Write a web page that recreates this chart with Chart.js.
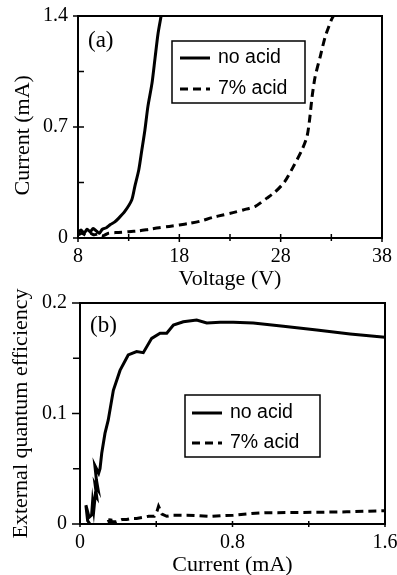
<!DOCTYPE html>
<html>
<head>
<meta charset="utf-8">
<script src="https://cdn.jsdelivr.net/npm/chart.js@4.4.0/dist/chart.umd.min.js"></script>
<style>
html, body { margin: 0; padding: 0; background: #fff; overflow: hidden; width: 397px; height: 575px; }
canvas { position: absolute; left: 0; }
#chartA { top: 0; }
#chartB { top: 280px; }
</style>
</head>
<body>
<canvas id="chartA" width="397" height="290"></canvas>
<canvas id="chartB" width="397" height="300"></canvas>
<script>
// panel (a): current vs voltage
const noAcidVoltage = [8.0, 8.3, 8.6, 8.9, 9.2, 9.5, 9.8, 10.1, 10.4, 10.8, 11.2, 11.6, 12.0, 12.6, 13.3, 13.6, 14.0, 14.3, 14.6, 14.9, 15.3, 15.6, 15.9, 16.2];
const noAcidCurrent = [0.035, 0.05, 0.03, 0.055, 0.04, 0.06, 0.045, 0.03, 0.055, 0.065, 0.085, 0.1, 0.124, 0.166, 0.24, 0.323, 0.43, 0.555, 0.68, 0.83, 0.975, 1.133, 1.29, 1.4];
const acidVoltage = [8.0, 8.4, 8.8, 9.2, 9.6, 10.0, 10.5, 11.0, 12.0, 13.0, 14.0, 15.0, 16.0, 17.0, 18.0, 19.0, 20.0, 21.3, 22.3, 23.3, 24.3, 25.5, 26.6, 27.45, 28.4, 29.25, 30.1, 30.6, 30.85, 31.1, 31.4, 31.9, 32.4, 33.0, 33.2];
const acidCurrent = [0.02, 0.03, 0.015, 0.03, 0.02, 0.025, 0.015, 0.03, 0.035, 0.04, 0.045, 0.055, 0.065, 0.073, 0.082, 0.092, 0.105, 0.13, 0.145, 0.16, 0.177, 0.2, 0.25, 0.29, 0.355, 0.45, 0.555, 0.64, 0.744, 0.89, 1.017, 1.143, 1.27, 1.375, 1.4];
const xTicksA = [8, 13, 18, 23, 28, 33, 38];
const xLabelsA = [8, 18, 28, 38];
const yTicksA = [0, 0.35, 0.7, 1.05, 1.4];
const yLabelsA = [0, 0.7, 1.4];

// panel (b): external quantum efficiency vs current
const noAcidCur = [0.052, 0.040, 0.031, 0.048, 0.061, 0.066, 0.072, 0.080, 0.088, 0.079, 0.095, 0.086, 0.078, 0.098, 0.105, 0.114, 0.131, 0.148, 0.175, 0.21, 0.253, 0.297, 0.332, 0.376, 0.42, 0.455, 0.49, 0.542, 0.612, 0.665, 0.735, 0.804, 0.909, 1.067, 1.242, 1.417, 1.6];
const noAcidEqe = [0.000, 0.003, 0.017, 0.006, 0.008, 0.020, 0.012, 0.026, 0.024, 0.036, 0.031, 0.040, 0.053, 0.046, 0.050, 0.064, 0.082, 0.094, 0.121, 0.139, 0.153, 0.156, 0.155, 0.168, 0.1726, 0.1726, 0.180, 0.183, 0.1846, 0.182, 0.1825, 0.1825, 0.182, 0.179, 0.1755, 0.172, 0.169];
const acidCur = [0.148, 0.155, 0.158, 0.165, 0.19, 0.22, 0.245, 0.27, 0.297, 0.33, 0.36, 0.39, 0.405, 0.412, 0.43, 0.455, 0.49, 0.56, 0.62, 0.68, 0.74, 0.804, 0.9, 0.98, 1.1, 1.242, 1.4, 1.6];
const acidEqe = [0.004, 0.001, 0.007, 0.002, 0.002, 0.004, 0.004, 0.005, 0.005, 0.006, 0.007, 0.007, 0.012, 0.016, 0.009, 0.007, 0.008, 0.008, 0.0075, 0.0068, 0.0075, 0.008, 0.0095, 0.0102, 0.0104, 0.0106, 0.011, 0.012];
const xTicksB = [0, 0.4, 0.8, 1.2, 1.6];
const xLabelsB = [0, 0.8, 1.6];
const yTicksB = [0, 0.05, 0.1, 0.15, 0.2];
const yLabelsB = [0, 0.1, 0.2];

const seriesNames = ['no acid', '7% acid'];

Chart.defaults.font.family = '"Liberation Serif", "Times New Roman", serif';
Chart.defaults.color = '#000';

const toPoints = (xs, ys) => xs.map((x, i) => ({x: x, y: ys[i]}));
const hasValue = (list, v) => list.some(l => Math.abs(l - v) < 1e-9);

// box round the plot and ticks that cross the axes
const frameTicks = {
    id: 'frameTicks',
    afterDatasetsDraw(chart, args, opts) {
        const {ctx, chartArea: a, scales} = chart;
        ctx.save();
        ctx.strokeStyle = '#000';
        ctx.lineWidth = 2;
        ctx.strokeRect(a.left, a.top, a.right - a.left, a.bottom - a.top);
        ctx.lineWidth = 1.5;
        ctx.beginPath();
        scales.x.ticks.forEach(t => {
            const px = scales.x.getPixelForValue(t.value);
            const len = t.label !== '' ? opts.x.major : opts.x.minor;
            ctx.moveTo(px, a.bottom - len[0]);
            ctx.lineTo(px, a.bottom + len[1]);
        });
        scales.y.ticks.forEach(t => {
            const py = scales.y.getPixelForValue(t.value);
            const len = t.label !== '' ? opts.y.major : opts.y.minor;
            ctx.moveTo(a.left - len[1], py);
            ctx.lineTo(a.left + len[0], py);
        });
        ctx.stroke();
        ctx.restore();
    }
};

// legend in a box inside the plot, and the panel letter
const boxLegend = {
    id: 'boxLegend',
    afterDraw(chart, args, opts) {
        const {ctx, chartArea: a} = chart;
        const x = a.left + opts.x, y = a.top + opts.y;
        ctx.save();
        ctx.strokeStyle = '#000';
        ctx.fillStyle = '#000';
        ctx.lineWidth = 1.5;
        ctx.strokeRect(x, y, opts.w, opts.h);
        ctx.font = '19.5px "Liberation Sans", Arial, sans-serif';
        ctx.textBaseline = 'middle';
        chart.data.datasets.forEach((ds, i) => {
            const ly = y + opts.rows[i];
            ctx.lineWidth = ds.borderWidth;
            ctx.setLineDash(ds.borderDash || []);
            ctx.beginPath();
            ctx.moveTo(x + opts.line[0], ly);
            ctx.lineTo(x + opts.line[1], ly);
            ctx.stroke();
            ctx.setLineDash([]);
            ctx.fillText(ds.label, x + opts.text, ly);
        });
        ctx.font = '23px "Liberation Serif", serif';
        ctx.fillText(opts.letter, a.left + 10, a.top + opts.letterY);
        ctx.restore();
    }
};

function makeChart(id, cfg) {
    const tickFont = {size: 20, lineHeight: 1.2};
    const titleFont = {size: 22, lineHeight: 1};
    const labeller = list => v => hasValue(list, v) ? String(+v.toFixed(2)) : '';
    return new Chart(document.getElementById(id), {
        type: 'scatter',
        data: {
            datasets: [{
                label: seriesNames[0],
                data: cfg.solid,
                showLine: true,
                borderColor: '#000',
                borderWidth: 3,
                pointRadius: 0,
                tension: cfg.tension
            }, {
                label: seriesNames[1],
                data: cfg.dashed,
                showLine: true,
                borderColor: '#000',
                borderWidth: 3,
                borderDash: [8, 5],
                pointRadius: 0,
                tension: cfg.tension
            }]
        },
        options: {
            responsive: false,
            animation: false,
            layout: {padding: cfg.padding},
            plugins: {
                legend: {display: false},
                tooltip: {enabled: false},
                frameTicks: cfg.ticks,
                boxLegend: cfg.legend
            },
            scales: {
                x: {
                    min: cfg.xTicks[0],
                    max: cfg.xTicks[cfg.xTicks.length - 1],
                    grid: {display: false, drawTicks: false},
                    border: {display: false},
                    afterBuildTicks: s => { s.ticks = cfg.xTicks.map(v => ({value: v})); },
                    afterFit: s => { s.height = cfg.xHeight; s.paddingLeft = 0; s.paddingRight = 0; },
                    ticks: {
                        font: tickFont,
                        padding: cfg.xPad,
                        autoSkip: false,
                        maxRotation: 0,
                        callback: labeller(cfg.xLabels)
                    },
                    title: {display: true, text: cfg.xTitle, font: titleFont, padding: {top: 0, bottom: cfg.xTitlePad}}
                },
                y: {
                    min: cfg.yTicks[0],
                    max: cfg.yTicks[cfg.yTicks.length - 1],
                    grid: {display: false, drawTicks: false},
                    border: {display: false},
                    afterBuildTicks: s => { s.ticks = cfg.yTicks.map(v => ({value: v})); },
                    afterFit: s => { s.width = cfg.yWidth; s.paddingTop = 0; s.paddingBottom = 0; },
                    ticks: {
                        font: tickFont,
                        padding: cfg.yPad,
                        callback: labeller(cfg.yLabels)
                    },
                    title: {display: true, text: cfg.yTitle, font: titleFont, padding: {top: cfg.yTitlePad, bottom: 0}}
                }
            }
        },
        plugins: [frameTicks, boxLegend]
    });
}

makeChart('chartA', {
    solid: toPoints(noAcidVoltage, noAcidCurrent),
    dashed: toPoints(acidVoltage, acidCurrent),
    tension: 0.25,
    padding: {left: 0, top: 16, right: 15, bottom: 0},
    xTicks: xTicksA, xLabels: xLabelsA, yTicks: yTicksA, yLabels: yLabelsA,
    xHeight: 52, yWidth: 78, xPad: 7, yPad: 10,
    xTitle: 'Voltage (V)', xTitlePad: 0,
    yTitle: 'Current (mA)\u00a0\u00a0\u00a0', yTitlePad: 12,
    ticks: {x: {major: [4, 4], minor: [4, 3]}, y: {major: [6, 5], minor: [6, 0]}},
    legend: {x: 94, y: 25, w: 133, h: 62, rows: [17, 48], line: [8, 38], text: 46, letter: '(a)', letterY: 25}
});

makeChart('chartB', {
    solid: toPoints(noAcidCur, noAcidEqe),
    dashed: toPoints(acidCur, acidEqe),
    tension: 0,
    padding: {left: 0, top: 23, right: 12, bottom: 0},
    xTicks: xTicksB, xLabels: xLabelsB, yTicks: yTicksB, yLabels: yLabelsB,
    xHeight: 56, yWidth: 80, xPad: 6.5, yPad: 13,
    xTitle: 'Current (mA)', xTitlePad: 3.5,
    yTitle: 'External quantum efficiency', yTitlePad: 10,
    ticks: {x: {major: [3, 3], minor: [3, 3]}, y: {major: [0, 8], minor: [0, 7]}},
    legend: {x: 105, y: 92, w: 135, h: 62, rows: [18, 48], line: [7, 37], text: 45, letter: '(b)', letterY: 23}
});
</script>
</body>
</html>
